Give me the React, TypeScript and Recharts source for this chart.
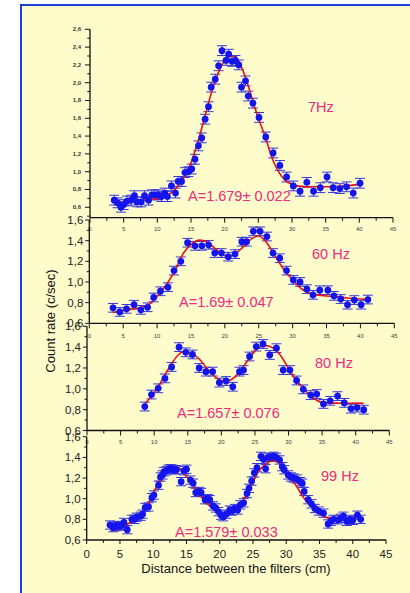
import React from 'react';
import { ComposedChart, Scatter, Line, XAxis, YAxis, ErrorBar } from 'recharts';

// ---------- data ----------
const X_TICKS = [0, 2.5, 5, 7.5, 10, 12.5, 15, 17.5, 20, 22.5, 25, 27.5, 30, 32.5, 35, 37.5, 40, 42.5, 45];
const Y_TICKS_7HZ = [0.5, 0.6, 0.7, 0.8, 0.9, 1.0, 1.1, 1.2, 1.3, 1.4, 1.5, 1.6, 1.7, 1.8, 1.9, 2.0, 2.1, 2.2, 2.3, 2.4, 2.5, 2.6];
const Y_TICKS = [0.6, 0.7, 0.8, 0.9, 1.0, 1.1, 1.2, 1.3, 1.4, 1.5, 1.6];

const PTS_7HZ: [number, number][] = [
  [3.6, 0.68], [4.1, 0.65], [4.6, 0.6], [5.0, 0.63], [5.5, 0.67], [6.1, 0.68], [6.6, 0.73], [7.0, 0.66], [7.6, 0.66], [8.1, 0.73],
  [8.7, 0.68], [9.2, 0.74], [9.6, 0.74], [10.1, 0.74], [10.6, 0.72], [11.1, 0.76], [11.5, 0.72], [12.1, 0.84], [12.7, 0.76], [13.1, 0.89],
  [13.6, 0.89], [14.1, 0.99], [14.6, 1.0], [15.1, 1.03], [15.6, 1.14], [16.1, 1.29], [16.6, 1.38], [17.1, 1.59], [17.6, 1.73], [18.0, 1.95],
  [18.6, 2.04], [19.1, 2.19], [19.6, 2.36], [20.2, 2.25], [20.6, 2.32], [21.1, 2.24], [21.6, 2.25], [22.1, 2.2], [22.5, 1.95], [23.1, 2.02],
  [23.5, 1.85], [24.2, 1.77], [25.1, 1.61], [26.1, 1.39], [27.2, 1.21], [28.2, 1.07], [29.2, 0.94], [30.2, 0.84], [31.2, 0.78], [32.2, 0.88],
  [33.2, 0.78], [34.2, 0.82], [35.2, 0.94], [36.1, 0.82], [37.1, 0.81], [38.1, 0.83], [39.1, 0.76], [40.1, 0.87],
];
const FIT_7HZ: [number, number][] = [
  [3.6, 0.65], [6, 0.665], [8, 0.68], [10, 0.7], [11, 0.72], [12, 0.76], [13, 0.83], [14, 0.94], [15, 1.1], [16, 1.33],
  [17, 1.6], [18, 1.88], [19, 2.1], [20, 2.25], [21, 2.3], [22, 2.25], [23, 2.08], [24, 1.84], [25, 1.6], [26, 1.4],
  [27, 1.16], [28, 1.0], [29, 0.9], [30, 0.86], [31, 0.84], [33, 0.83], [36, 0.83], [38, 0.84], [40.4, 0.86],
];

const PTS_60HZ: [number, number][] = [
  [3.5, 0.75], [4.5, 0.71], [5.5, 0.74], [6.6, 0.78], [7.6, 0.73], [8.6, 0.755], [9.5, 0.85], [10.5, 0.91], [11.6, 0.95], [12.5, 1.11],
  [13.5, 1.2], [14.5, 1.38], [15.6, 1.35], [16.6, 1.35], [17.6, 1.36], [18.5, 1.28], [19.5, 1.28], [20.5, 1.245], [21.5, 1.27], [22.5, 1.39],
  [23.2, 1.39], [24.2, 1.49], [25.2, 1.49], [26.2, 1.44], [27.1, 1.28], [28.1, 1.23], [29.1, 1.11], [30.1, 1.02], [31.1, 1.0], [32.1, 0.93],
  [33.0, 0.875], [34.0, 0.92], [35.2, 0.92], [36.1, 0.865], [37.1, 0.835], [38.1, 0.78], [39.1, 0.825], [40.1, 0.78], [41.1, 0.83],
];
const FIT_60HZ: [number, number][] = [
  [3.5, 0.705], [6, 0.735], [8.5, 0.77], [10, 0.86], [11, 0.94], [12.4, 1.08], [13.9, 1.28], [15.1, 1.37], [16.3, 1.405], [17.3, 1.39],
  [18.3, 1.34], [19.5, 1.27], [20.5, 1.245], [21.5, 1.27], [22.7, 1.34], [24, 1.42], [24.9, 1.445], [25.8, 1.41], [26.6, 1.34], [27.5, 1.24],
  [28.4, 1.15], [29.3, 1.07], [30.1, 1.02], [31, 0.95], [31.6, 0.92], [32.5, 0.89], [33.5, 0.875], [36, 0.86], [38, 0.845], [41, 0.83],
];

const PTS_80HZ: [number, number][] = [
  [8.6, 0.83], [9.6, 0.945], [10.6, 1.005], [11.6, 1.1], [12.6, 1.21], [13.7, 1.4], [14.7, 1.35], [15.7, 1.33], [16.7, 1.2], [17.7, 1.165],
  [18.7, 1.165], [19.7, 1.06], [20.7, 1.075], [21.7, 1.02], [22.7, 1.165], [23.3, 1.18], [24.2, 1.31], [25.2, 1.405], [26.2, 1.43], [27.2, 1.325],
  [28.2, 1.39], [29.2, 1.18], [30.2, 1.18], [31.2, 1.08], [32.2, 0.995], [33.3, 0.94], [34.2, 0.95], [35.2, 0.855], [36.2, 0.885], [37.3, 0.93],
  [38.3, 0.865], [39.3, 0.81], [40.2, 0.82], [41.2, 0.8],
];
const FIT_80HZ: [number, number][] = [
  [8.7, 0.86], [10.3, 0.99], [12.3, 1.21], [13.5, 1.32], [14.6, 1.36], [15.6, 1.34], [16.8, 1.28], [17.8, 1.2], [18.8, 1.13], [19.7, 1.085],
  [20.5, 1.07], [21.5, 1.09], [22.8, 1.165], [23.8, 1.26], [24.7, 1.34], [25.7, 1.4], [26.7, 1.415], [27.7, 1.39], [28.7, 1.33], [29.7, 1.23],
  [30.7, 1.12], [32, 1.02], [33, 0.95], [34, 0.9], [35.2, 0.865], [38, 0.862], [41.2, 0.86],
];

const PTS_99HZ: [number, number][] = [
  [3.5, 0.745], [4.0, 0.72], [4.3, 0.73], [4.6, 0.74], [5.0, 0.735], [5.3, 0.74], [5.6, 0.77], [6.1, 0.7], [6.8, 0.8], [7.2, 0.8],
  [7.5, 0.82], [8.1, 0.83], [8.4, 0.85], [8.8, 0.915], [9.3, 0.92], [9.8, 1.01], [10.1, 1.035], [10.8, 1.13], [11.1, 1.21], [11.4, 1.23],
  [11.6, 1.26], [12.0, 1.27], [12.3, 1.285], [12.6, 1.29], [12.9, 1.285], [13.2, 1.28], [13.5, 1.28], [14.2, 1.165], [14.6, 1.27], [15.0, 1.285],
  [15.6, 1.18], [16.0, 1.15], [16.4, 1.06], [16.9, 1.07], [17.2, 1.06], [17.8, 0.99], [18.2, 1.0], [18.5, 0.99], [19.0, 0.93], [19.4, 0.91],
  [19.8, 0.875], [20.2, 0.84], [20.5, 0.825], [21.0, 0.85], [21.5, 0.89], [21.8, 0.88], [22.3, 0.905], [22.7, 0.89], [23.1, 0.94], [23.6, 0.96],
  [24.1, 1.05], [24.4, 1.1], [24.8, 1.17], [25.2, 1.25], [25.6, 1.3], [26.2, 1.41], [26.6, 1.38], [26.9, 1.29], [27.3, 1.4], [27.7, 1.4],
  [28.1, 1.41], [28.5, 1.4], [29.0, 1.375], [29.4, 1.31], [29.7, 1.28], [30.3, 1.23], [30.7, 1.21], [31.1, 1.2], [31.6, 1.19], [32.1, 1.165],
  [32.4, 1.15], [32.7, 1.07], [33.3, 0.99], [33.8, 0.95], [34.3, 0.905], [34.9, 0.88], [35.6, 0.86], [36.3, 0.755], [36.7, 0.78], [37.1, 0.8],
  [37.8, 0.795], [38.2, 0.81], [38.6, 0.83], [39.1, 0.78], [39.6, 0.8], [40.0, 0.79], [40.7, 0.84], [41.2, 0.8],
];
const FIT_99HZ: [number, number][] = [
  [3.7, 0.69], [5.5, 0.73], [7, 0.79], [8, 0.84], [9, 0.92], [10.5, 1.115], [12, 1.26], [13.2, 1.31], [14, 1.29], [15, 1.215],
  [16, 1.13], [17, 1.035], [18, 0.96], [19, 0.905], [20.5, 0.84], [21.5, 0.86], [22.6, 0.905], [23.4, 0.97], [24.1, 1.05], [25, 1.16],
  [25.8, 1.26], [27, 1.34], [28.1, 1.37], [29, 1.34], [29.8, 1.28], [30.7, 1.2], [31.6, 1.115], [32.4, 1.03], [33.1, 0.97], [34.6, 0.875],
  [36.1, 0.815], [38.1, 0.795], [40, 0.81], [41.1, 0.83],
];

const ERR_7HZ = 0.055;
const ERR_60HZ = 0.042;
const ERR_80HZ = 0.042;
const ERR_99HZ = 0.04;

const FONT = "Arial, 'Liberation Sans', sans-serif";
const PINK = '#ec2a80';
const DOT = '#1414ee';
const AXIS = '#111';

type Box = { left: number; right: number; top: number; bottom: number };
type Cfg = {
  yFs: number; yColor: string; yBold: boolean; yGap: number; yMajor: number; yMinor: number;
  xFs: number; xColor: string; xDy: number; xMajor: number; xMinor: number; xAxisH: number;
};

const fmtY = (v: number) => v.toFixed(1).replace('.', ',');

function YTick(props: any) {
  const { x, y, payload, cfg } = props;
  const v = payload.value as number;
  const major = Math.round(v * 10) % 2 === 0;
  const len = major ? cfg.yMajor : cfg.yMinor;
  return (
    <g>
      <line x1={x - len} y1={y} x2={x} y2={y} stroke={AXIS} strokeWidth={1} />
      {major && (
        <text x={x - cfg.yGap} y={y} textAnchor="end" dominantBaseline="central" fontSize={cfg.yFs}
          fontFamily={FONT} fill={cfg.yColor} fontWeight={cfg.yBold ? 'bold' : 'normal'}>
          {fmtY(v)}
        </text>
      )}
    </g>
  );
}

function XTick(props: any) {
  const { x, y, payload, cfg } = props;
  const v = payload.value as number;
  const major = v % 5 === 0;
  const len = major ? cfg.xMajor : cfg.xMinor;
  return (
    <g>
      <line x1={x} y1={y} x2={x} y2={y + len} stroke={AXIS} strokeWidth={1} />
      {major && (
        <text x={x} y={y + cfg.xDy} textAnchor="middle" dominantBaseline="central" fontSize={cfg.xFs}
          fontFamily={FONT} fill={cfg.xColor}>
          {v}
        </text>
      )}
    </g>
  );
}

const dotShape = (p: any) => <circle cx={p.cx} cy={p.cy} r={3.4} fill={DOT} />;

function Panel({ pts, fit, err, domain, yTicks, box, cfg }: {
  pts: [number, number][]; fit: [number, number][]; err: number; domain: [number, number];
  yTicks: number[]; box: Box; cfg: Cfg;
}) {
  const W = 410;
  const H = box.bottom + cfg.xAxisH;
  const data = pts.map(([x, y]) => ({ x, y, e: err }));
  const fitData = fit.map(([x, y]) => ({ x, y }));
  return (
    <div style={{ position: 'absolute', left: 0, top: 0 }}>
      <ComposedChart width={W} height={H} margin={{ top: box.top, right: W - box.right, bottom: 0, left: 0 }}>
        <XAxis type="number" dataKey="x" domain={[0, 45]} ticks={X_TICKS} interval={0} height={cfg.xAxisH}
          tickSize={0} tickMargin={0} tickLine={false} axisLine={{ stroke: AXIS, strokeWidth: 1.3 }}
          tick={(p: any) => <XTick {...p} cfg={cfg} />} allowDataOverflow />
        <YAxis type="number" dataKey="y" domain={domain} ticks={yTicks} interval={0} width={box.left}
          tickSize={0} tickMargin={0} tickLine={false} axisLine={{ stroke: AXIS, strokeWidth: 1.3 }}
          tick={(p: any) => <YTick {...p} cfg={cfg} />} allowDataOverflow />
        <Scatter data={data} shape={dotShape} isAnimationActive={false}>
          <ErrorBar dataKey="e" direction="y" width={5} stroke="#3434dc" strokeWidth={1} isAnimationActive={false} />
        </Scatter>
        <Line data={fitData} dataKey="y" type="monotone" stroke="#ee1111" strokeWidth={1.6} dot={false}
          activeDot={false} isAnimationActive={false} />
      </ComposedChart>
    </div>
  );
}

const smallCfg: Cfg = {
  yFs: 11.5, yColor: '#222', yBold: false, yGap: 6, yMajor: 4, yMinor: 2.5,
  xFs: 6, xColor: '#444', xDy: 12, xMajor: 5, xMinor: 3, xAxisH: 20,
};

export default function App() {
  return (
    <div style={{ position: 'absolute', left: 0, top: 0, width: 410, height: 593, overflow: 'hidden', background: '#fff' }}>
      <div style={{
        position: 'absolute', left: 20, top: 4, width: 430, height: 640, background: '#FFFCCC',
        border: '2px solid #1d3fd8', boxSizing: 'border-box',
      }} />
      <Panel pts={PTS_7HZ} fit={FIT_7HZ} err={ERR_7HZ} domain={[0.483, 2.6]} yTicks={Y_TICKS_7HZ}
        box={{ left: 90, right: 393, top: 29.3, bottom: 217.7 }}
        cfg={{ yFs: 6, yColor: '#333', yBold: true, yGap: 9, yMajor: 5, yMinor: 2.7,
          xFs: 6, xColor: '#444', xDy: 11, xMajor: 5, xMinor: 3, xAxisH: 20 }} />
      <Panel pts={PTS_60HZ} fit={FIT_60HZ} err={ERR_60HZ} domain={[0.6, 1.6]} yTicks={Y_TICKS}
        box={{ left: 89.3, right: 394.3, top: 220, bottom: 323.3 }} cfg={{ ...smallCfg, xDy: 12.4 }} />
      <Panel pts={PTS_80HZ} fit={FIT_80HZ} err={ERR_80HZ} domain={[0.6, 1.6]} yTicks={Y_TICKS}
        box={{ left: 87, right: 389.3, top: 326.3, bottom: 430.5 }} cfg={{ ...smallCfg, xDy: 11 }} />
      <Panel pts={PTS_99HZ} fit={FIT_99HZ} err={ERR_99HZ} domain={[0.6, 1.6]} yTicks={Y_TICKS}
        box={{ left: 86.7, right: 386, top: 436.7, bottom: 540 }}
        cfg={{ ...smallCfg, xFs: 11.5, xColor: '#222', xDy: 14, xMajor: 4, xMinor: 3, xAxisH: 40 }} />
      <svg width={410} height={593} style={{ position: 'absolute', left: 0, top: 0, pointerEvents: 'none' }}>
        <g fontFamily={FONT} fill={PINK} fontSize={14.5}>
          <text x={308} y={107} dominantBaseline="central">7Hz</text>
          <text x={188} y={196} dominantBaseline="central">A=1.679± 0.022</text>
          <text x={312} y={254} dominantBaseline="central">60 Hz</text>
          <text x={179} y={302} dominantBaseline="central">A=1.69± 0.047</text>
          <text x={315} y={363} dominantBaseline="central">80 Hz</text>
          <text x={177} y={413} dominantBaseline="central">A=1.657± 0.076</text>
          <text x={321} y={476} dominantBaseline="central">99 Hz</text>
          <text x={175} y={532} dominantBaseline="central">A=1.579± 0.033</text>
        </g>
        <text x={236} y={568} textAnchor="middle" dominantBaseline="central" fontFamily={FONT} fontSize={13} fill="#111">
          Distance between the filters (cm)
        </text>
        <text x={50} y={321} textAnchor="middle" dominantBaseline="central" fontFamily={FONT} fontSize={13} fill="#111"
          transform="rotate(-90 50 321)">
          Count rate (c/sec)
        </text>
      </svg>
    </div>
  );
}
